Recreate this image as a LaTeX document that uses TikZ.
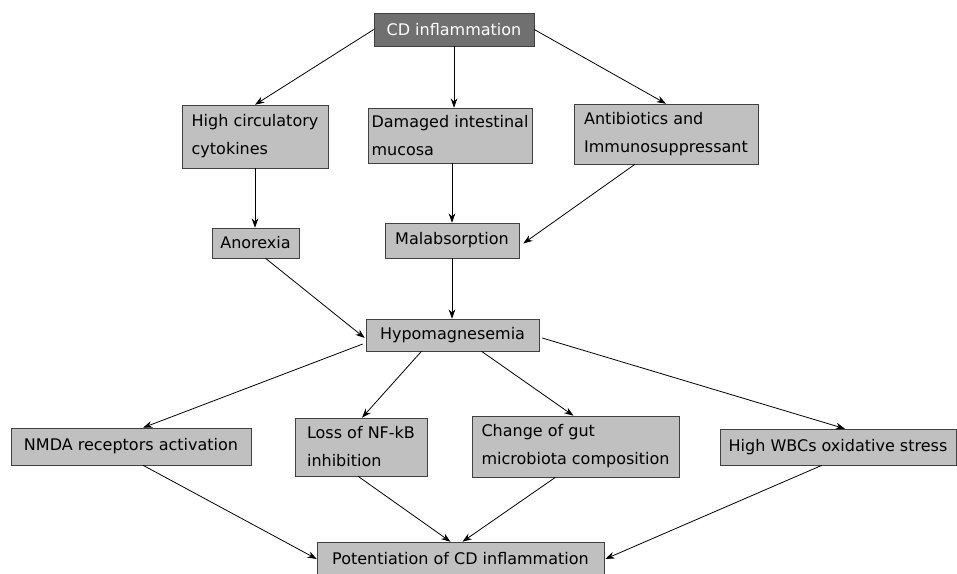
\documentclass[tikz,border=0pt]{standalone}
\usepackage{fontspec}
\setmainfont{DejaVu Sans}
\usepackage{xcolor}
\usetikzlibrary{positioning,arrows.meta,calc}
\definecolor{cdgray}{HTML}{707070}
\definecolor{boxgray}{HTML}{C0C0C0}

\begin{document}
\begin{tikzpicture}[x=0.75pt, y=-0.75pt, font=\fontsize{12}{21}\selectfont]
    \tikzset{
      source/.style = {rectangle, draw=black!75, fill=cdgray, text=white, inner sep=0pt},
      effect/.style = {rectangle, draw=black!75, fill=boxgray, align=left, inner sep=0pt},
      arrow/.style = {-{Stealth[length=7pt,width=5pt]}, line width=0.6pt}
    }
    \useasboundingbox (0,0) rectangle (957,574);

    \node (cd) [source, minimum width=120pt, minimum height=24.75pt] at (454,29.5) {CD inflammation};
    \node (high) [effect, minimum width=109.5pt, minimum height=47.25pt] at (255,136.5) {High circulatory\\cytokines};
    \node (damaged) [effect, minimum width=123pt, minimum height=41.25pt] at (450,135.5) {Damaged intestinal\\mucosa};
    \node (antib) [effect, minimum width=138pt, minimum height=45pt] at (666,134) {Antibiotics and\\Immunosuppressant};
    \node (anorexia) [effect, minimum width=65.25pt, minimum height=22.5pt] at (255.5,243) {Anorexia};
    \node (malab) [effect, minimum width=100.5pt, minimum height=26.25pt] at (452,240.5) {Malabsorption};
    \node (hypo) [effect, minimum width=129.75pt, minimum height=24pt] at (452.5,335) {Hypomagnesemia};
    \node (nmda) [effect, minimum width=180pt, minimum height=27.75pt] at (131,446.5) {NMDA receptors activation};
    \node (loss) [effect, minimum width=99pt, minimum height=43.5pt] at (361,447) {Loss of NF-kB\\inhibition};
    \node (change) [effect, minimum width=155.25pt, minimum height=45.75pt] at (575.5,446.5) {Change of gut\\microbiota composition};
    \node (wbc) [effect, minimum width=177pt, minimum height=27pt] at (838,447) {High WBCs oxidative stress};
    \node (pot) [effect, minimum width=215.25pt, minimum height=25.5pt] at (460.5,559) {Potentiation of CD inflammation};

    \draw [arrow] (cd.west) -- (high.north);
    \draw [arrow] (cd.south) -- (cd.south |- damaged.north);
    \draw [arrow] (cd.east) -- (antib.north);
    \draw [arrow] (high.south) -- (high.south |- anorexia.north);
    \draw [arrow] (damaged.south -| malab.north) -- (malab.north);
    \draw [arrow] ($(antib.south)+(-31,0)$) -- ($(malab.east)+(4,3)$);
    \draw [arrow] ($(anorexia.south)+(10,0)$) -- ($(hypo.west)+(-1,3)$);
    \draw [arrow] (malab.south) -- (malab.south |- hypo.north);
    \draw [arrow] ($(hypo.west)+(-3,9)$) -- ($(nmda.north)+(12,0)$);
    \draw [arrow] ($(hypo.south)+(-31,0)$) -- ($(loss.north)+(1,0)$);
    \draw [arrow] ($(hypo.south)+(29,0)$) -- ($(change.north)+(-2,0)$);
    \draw [arrow] ($(hypo.east)+(3,3)$) -- ($(wbc.north)+(7,0)$);
    \draw [arrow] ($(nmda.south)+(12,0)$) -- (pot.west);
    \draw [arrow] ($(loss.south)+(-3,0)$) -- ($(pot.north)+(-10,0)$);
    \draw [arrow] ($(change.south)+(-20,0)$) -- ($(pot.north)+(2,0)$);
    \draw [arrow] ($(wbc.south)+(-16,0)$) -- ($(pot.east)+(1,0)$);
\end{tikzpicture}
\end{document}
